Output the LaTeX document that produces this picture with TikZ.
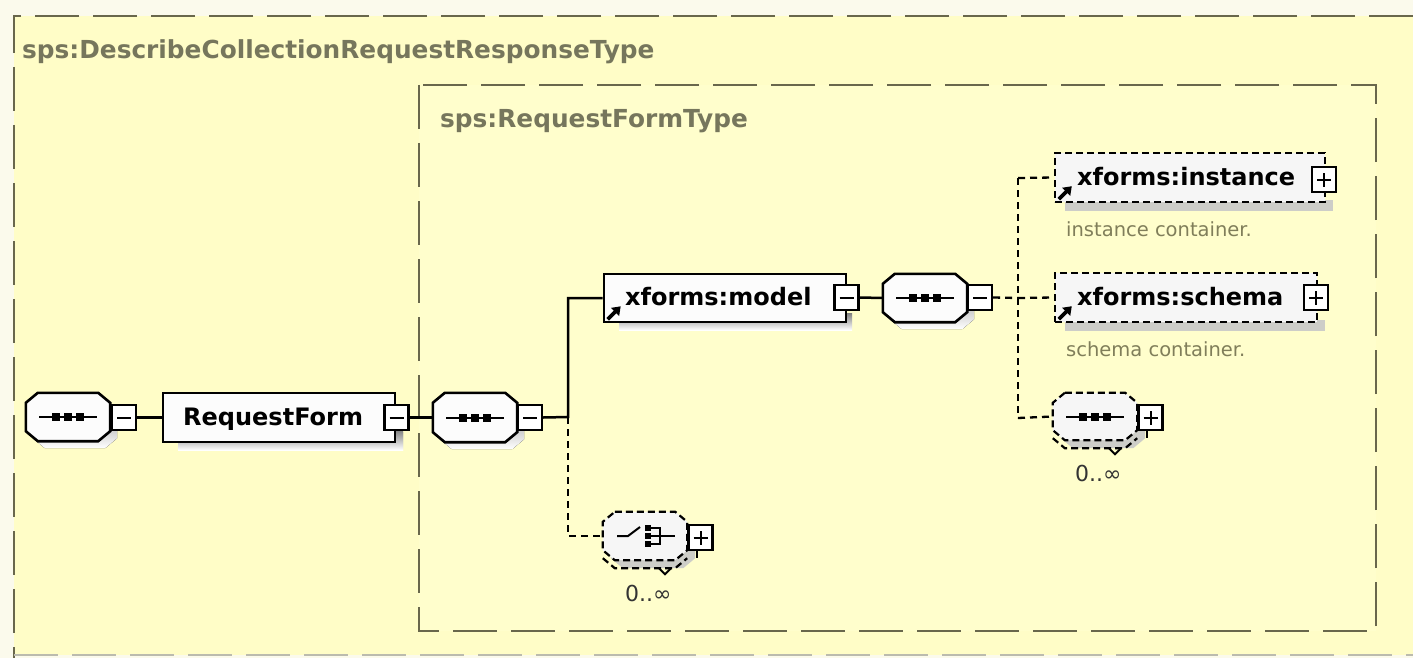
\documentclass[tikz,border=0pt]{standalone}
\usepackage{fontspec}
\newfontfamily\dvsans{DejaVu Sans}
\usetikzlibrary{arrows.meta}

\definecolor{paper}{RGB}{251,250,236}
\definecolor{panel}{RGB}{255,253,199}
\definecolor{innerpanel}{RGB}{255,254,204}
\definecolor{frameline}{RGB}{105,103,76}
\definecolor{typetext}{RGB}{118,118,92}
\definecolor{doctext}{RGB}{128,126,90}
\definecolor{shade}{RGB}{180,180,180}
\definecolor{softshade}{RGB}{205,205,200}
\definecolor{boxfill}{RGB}{252,252,252}
\definecolor{optfill}{RGB}{246,246,246}

% octagon outline around a node: node, x offset, y offset (downwards)
\newcommand\octo[3]{([xshift=12pt+#2,yshift=-#3]#1.north west) -- ([xshift=-12pt+#2,yshift=-#3]#1.north east) -- ([xshift=#2,yshift=-10pt-#3]#1.north east) -- ([xshift=#2,yshift=10pt-#3]#1.south east) -- ([xshift=-12pt+#2,yshift=-#3]#1.south east) -- ([xshift=12pt+#2,yshift=-#3]#1.south west) -- ([xshift=#2,yshift=10pt-#3]#1.south west) -- ([xshift=#2,yshift=-10pt-#3]#1.north west) -- cycle}
% second bottom edge of a repeated compositor
\newcommand\stackedge[3]{([xshift=#2,yshift=2pt-#3]#1.south west) -- ([xshift=12pt+#2,yshift=-8pt-#3]#1.south west) -- ([xshift=-12pt+#2,yshift=-8pt-#3]#1.south east) -- ([xshift=#2,yshift=2pt-#3]#1.south east)}
% three-dot sequence glyph
\newcommand\seqglyph[1]{%
  \draw[line width=2] ([xshift=-29pt]#1.center) -- ([xshift=29pt]#1.center);
  \foreach \dx in {-12,0,12} \fill ([xshift=\dx pt-4pt,yshift=-4pt]#1.center) rectangle ([xshift=\dx pt+4pt,yshift=4pt]#1.center);}

\begin{document}
\begin{tikzpicture}[x=1pt,y=-1pt,
  hull/.style={inner sep=0, draw=none},
  typeframe/.style={draw=frameline, line width=2.2, dash pattern=on 44pt off 14pt},
  typetitle/.style={font=\dvsans\bfseries\fontsize{24.8}{27}\selectfont, text=typetext, inner sep=0, anchor=base west},
  elemtext/.style={font=\dvsans\bfseries\fontsize{24}{26}\selectfont, text=black, inner sep=0, anchor=base west},
  doc/.style={font=\dvsans\fontsize{19.5}{22}\selectfont, text=doctext, inner sep=0, anchor=base west},
  occurs/.style={font=\dvsans\fontsize{22}{24}\selectfont, text=black!80, inner sep=0, anchor=base west},
  elembox/.style={draw, line width=2.6, fill=boxfill, inner sep=0},
  optbox/.style={draw, line width=2.4, fill=optfill, inner sep=0, dash pattern=on 7pt off 4pt},
  optline/.style={draw, line width=2.2, dash pattern=on 7pt off 4pt},
  conn/.style={line width=2.5},
  optconn/.style={line width=2.3, dash pattern=on 7pt off 5pt},
  pm/.style={draw, line width=2.3, fill=white, inner sep=0, minimum width=24, minimum height=25},
  minusbox/.style={pm, path picture={\draw[line width=2] ([xshift=-7pt]path picture bounding box.center) -- ([xshift=7pt]path picture bounding box.center);}},
  plusbox/.style={pm, path picture={\draw[line width=2] ([xshift=-7pt]path picture bounding box.center) -- ([xshift=7pt]path picture bounding box.center) ([yshift=-7pt]path picture bounding box.center) -- ([yshift=7pt]path picture bounding box.center);}},
  refarrow/.style={line width=3.6, -{Triangle[length=8pt,width=11pt]}},
  ]
\useasboundingbox (0,0) rectangle (1413,658);
\fill[paper] (0,0) rectangle (1413,658);

% complex type panels
\fill[panel] (14,16) rectangle (1413,655);
\draw[typeframe] (1413,16) -- (14,16) -- (14,658);
\draw[typeframe, draw=frameline!45] (14,655) -- (1413,655);
\node[typetitle] (outertitle) at (22,59) {sps:DescribeCollectionRequestResponseType};

\fill[innerpanel] (419,85) rectangle (1376,631);
\draw[typeframe] (419,85) rectangle (1376,631);
\node[typetitle] (innertitle) at (440,128) {sps:RequestFormType};

% node hulls
\node[hull, minimum width=84, minimum height=48] (s1) at (68,417) {};
\node[hull, minimum width=84, minimum height=49] (s2) at (475,417.5) {};
\node[hull, minimum width=84, minimum height=48] (s3) at (925,298) {};
\node[hull, minimum width=84, minimum height=47] (s4) at (1095,416.5) {};
\node[hull, minimum width=84, minimum height=48] (c1) at (645,536) {};

% shadows
\fill[shade] \octo{s1}{7pt}{7pt};
\fill[shade] \octo{s2}{7pt}{7pt};
\fill[shade] \octo{s3}{7pt}{7pt};
\fill[shade] (178,432) rectangle (403,450);
\fill[shade] (390,430) rectangle (403,450);
\fill[shade] (619,313) rectangle (852,330);
\fill[softshade] (1065,200) rectangle (1333,211);
\fill[softshade] (1065,320) rectangle (1325,331);
\fill[softshade] \octo{s4}{8pt}{8pt};
\fill[softshade] \octo{c1}{8pt}{8pt};

% junctions
\coordinate (j1) at (568,417);
\coordinate (j2) at (1018,298);
\coordinate (jtop) at (1018,178);
\coordinate (jbot) at (1018,418);

% elements
\node[elembox, minimum width=232, minimum height=49] (rf) at (279,417.5) {};
\node[elemtext] (rft) at (183,425) {RequestForm};
\node[elembox, minimum width=242, minimum height=48] (model) at (725,298) {};
\node[elemtext] (modelt) at (625,305) {xforms:model};
\node[optbox, minimum width=270, minimum height=49] (inst) at (1190,177.5) {};
\node[elemtext] (instt) at (1077,185) {xforms:instance};
\node[optbox, minimum width=262, minimum height=49] (schema) at (1186,297.5) {};
\node[elemtext] (schemat) at (1077,305) {xforms:schema};

% compositors
\filldraw[fill=boxfill, line width=2.6] \octo{s1}{0pt}{0pt};
\seqglyph{s1}
\filldraw[fill=boxfill, line width=2.6] \octo{s2}{0pt}{0pt};
\seqglyph{s2}
\filldraw[fill=boxfill, line width=2.6] \octo{s3}{0pt}{0pt};
\seqglyph{s3}
\fill[optfill] \octo{s4}{0pt}{0pt};
\draw[optline] \octo{s4}{0pt}{0pt};
\draw[optline] \stackedge{s4}{0pt}{0pt};
\draw[line width=2] ([xshift=14pt,yshift=-8pt]s4.south) -- ([xshift=20pt,yshift=-14pt]s4.south) -- ([xshift=26pt,yshift=-8pt]s4.south);
\seqglyph{s4}
\fill[optfill] \octo{c1}{0pt}{0pt};
\draw[optline] \octo{c1}{0pt}{0pt};
\draw[optline] \stackedge{c1}{0pt}{0pt};
\draw[line width=2] ([xshift=14pt,yshift=-8pt]c1.south) -- ([xshift=20pt,yshift=-14pt]c1.south) -- ([xshift=26pt,yshift=-8pt]c1.south);
% choice glyph
\draw[line width=2] ([xshift=-28pt]c1.center) -- ([xshift=-17pt]c1.center) -- ([xshift=-5pt,yshift=9pt]c1.center);
\foreach \dy in {-8,0,8} \fill ([xshift=0pt,yshift=\dy pt-3pt]c1.center) rectangle ([xshift=6pt,yshift=\dy pt+3pt]c1.center);
\draw[line width=2] ([xshift=6pt,yshift=8pt]c1.center) -- ([xshift=15pt,yshift=8pt]c1.center) -- ([xshift=15pt,yshift=-8pt]c1.center) -- ([xshift=6pt,yshift=-8pt]c1.center);
\draw[line width=2] ([xshift=6pt]c1.center) -- ([xshift=30pt]c1.center);

% expand / collapse boxes
\node[minusbox] (m1) at (124,417.5) {};
\node[minusbox] (m2) at (396.5,417.5) {};
\node[minusbox] (m3) at (530,417.5) {};
\node[minusbox] (m4) at (846.5,297.5) {};
\node[minusbox] (m5) at (980,297.5) {};
\node[plusbox] (p1) at (1324,179.5) {};
\node[plusbox] (p2) at (1316,297.5) {};
\node[plusbox] (p3) at (1150.5,417.5) {};
\node[plusbox] (p4) at (700.5,537.5) {};
\draw[line width=2] ([xshift=-4pt]p3.south) -- ++(0,7);
\draw[line width=2] ([xshift=-4pt]p4.south) -- ++(0,7);

% reference arrows
\draw[refarrow] ([xshift=5pt,yshift=4pt]model.south west) -- ++(13,-13);
\draw[refarrow] ([xshift=5pt,yshift=4pt]inst.south west) -- ++(13,-13);
\draw[refarrow] ([xshift=5pt,yshift=4pt]schema.south west) -- ++(13,-13);

% connectors between nodes
\draw[conn] (m1.east) -- (rf.west);
\draw[conn] (m2.east) -- (s2.west);
\draw[conn] (m3.east) -- (j1) -- (j1 |- model.west) -- (model.west);
\draw[optconn] (j1) -- (j1 |- c1.west) -- (c1.west);
\draw[conn] (m4.east) -- (s3.west);
\draw[optconn] (m5.east) -- (j2);
\draw[optconn] (jtop) -- (jbot);
\draw[optconn] (jtop) -- (inst.west);
\draw[optconn] (j2) -- (schema.west);
\draw[optconn] (jbot) -- (s4.west);

% annotations
\node[doc] (instdoc) at (1066,236) {instance container.};
\node[doc] (schemadoc) at (1066,356) {schema container.};
\node[occurs] (occ1) at (1075,481) {0..∞};
\node[occurs] (occ2) at (625,601) {0..∞};
\end{tikzpicture}
\end{document}
